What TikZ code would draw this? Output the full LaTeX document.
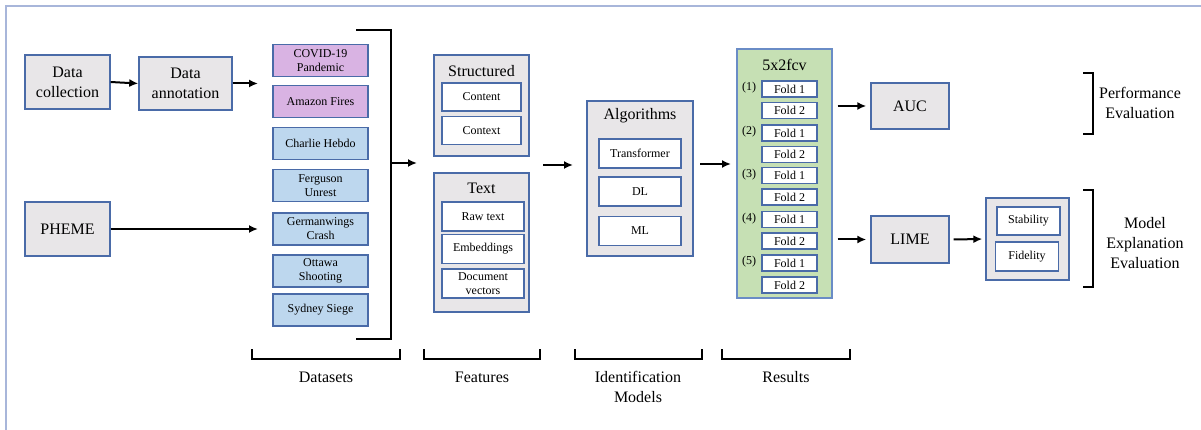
\documentclass[tikz,border=0pt]{standalone}
\usepackage{fontspec}
\setmainfont{Liberation Serif}
\newfontfamily\timesfont{Liberation Serif}
\usetikzlibrary{arrows.meta}

\definecolor{boxline}{HTML}{4A6BA8}
\definecolor{boxgray}{HTML}{E8E6E8}
\definecolor{dspurple}{HTML}{D9B3E3}
\definecolor{dsblue}{HTML}{BDD7EE}
\definecolor{cvgreen}{HTML}{C6E0B4}
\definecolor{cvline}{HTML}{6A8CC6}
\definecolor{framecol}{HTML}{A8B6DA}

\tikzset{
  bigfont/.style={font=\timesfont\fontsize{16}{20}\selectfont},
  smallfont/.style={font=\timesfont\fontsize{12}{14}\selectfont},
  graybox/.style={draw=boxline, line width=1.4pt, fill=boxgray, inner sep=0pt, align=center, bigfont},
  dsbox/.style={draw=boxline, line width=1.4pt, minimum width=95pt, minimum height=32pt, inner sep=0pt, align=center, smallfont},
  whitebox/.style={draw=boxline, line width=1.4pt, fill=white, inner sep=0pt, align=center, smallfont},
  foldbox/.style={whitebox, minimum width=55pt, minimum height=16pt},
  arrow/.style={-{Latex[length=9pt,width=8pt]}, line width=2pt},
  brack/.style={line width=1.8pt},
}

\begin{document}
\begin{tikzpicture}[x=1pt,y=-1pt]
  \useasboundingbox (0,0) rectangle (1201,430);
  \draw[framecol, line width=1.5pt] (6,430) -- (6,6) -- (1201,6);

  % sources
  \node[graybox, minimum width=85pt, minimum height=54pt] (dataCol) at (67.5,82) {Data\\collection};
  \node[graybox, minimum width=93pt, minimum height=53pt] (dataAnn) at (185.5,83.5) {Data\\annotation};
  \node[graybox, minimum width=85pt, minimum height=54pt] (pheme) at (67.5,229) {PHEME};

  % datasets
  \node[dsbox, fill=dspurple] (covid) at (320.5,60.5) {COVID-19\\Pandemic};
  \node[dsbox, fill=dspurple] (amazon) at (320.5,101.5) {Amazon Fires};
  \node[dsbox, fill=dsblue] (charlie) at (320.5,143.5) {Charlie Hebdo};
  \node[dsbox, fill=dsblue] (ferguson) at (320.5,185.5) {Ferguson\\Unrest};
  \node[dsbox, fill=dsblue] (germanwings) at (320.5,229) {Germanwings\\Crash};
  \node[dsbox, fill=dsblue] (ottawa) at (320.5,271) {Ottawa\\Shooting};
  \node[dsbox, fill=dsblue] (sydney) at (320.5,310) {Sydney Siege};

  \coordinate (annEnd) at (258,83.5);
  \coordinate (phemeEnd) at (258,229);
  \draw[arrow] (dataCol.east) -- (dataAnn.west);
  \draw[arrow] (dataAnn.east) -- (annEnd);
  \draw[arrow] (pheme.east) -- (phemeEnd);

  \draw[brack] (356,30) -- (391,30) -- (391,339) -- (356,339);
  \coordinate (dsOut) at (391,163);
  \coordinate (featIn) at (417,163);
  \draw[arrow] (dsOut) -- (featIn);

  % features
  \node[graybox, minimum width=95pt, minimum height=101pt] (structBox) at (481.5,105.5) {};
  \node[bigfont] (structTitle) at (481.5,71) {Structured};
  \node[whitebox, minimum width=79pt, minimum height=28pt] (content) at (481.5,97) {Content};
  \node[whitebox, minimum width=79pt, minimum height=28pt] (context) at (481.5,130.5) {Context};

  \node[graybox, minimum width=95pt, minimum height=139pt] (textBox) at (481.5,242.5) {};
  \node[bigfont] (textTitle) at (481.5,188) {Text};
  \node[whitebox, minimum width=82pt, minimum height=29pt] (rawText) at (483,216.5) {Raw text};
  \node[whitebox, minimum width=82pt, minimum height=29pt] (embed) at (483,249) {Embeddings};
  \node[whitebox, minimum width=82pt, minimum height=29pt] (docVec) at (483,283.5) {Document\\vectors};

  \coordinate (featOut) at (543,165);
  \coordinate (algoIn) at (573,165);
  \draw[arrow] (featOut) -- (algoIn);

  % identification models
  \node[graybox, minimum width=106pt, minimum height=155pt] (algoBox) at (640,178.5) {};
  \node[bigfont] (algoTitle) at (640,116) {Algorithms};
  \node[whitebox, minimum width=82pt, minimum height=29pt] (transformer) at (640,153.5) {Transformer};
  \node[whitebox, minimum width=82pt, minimum height=29pt] (dl) at (640,191.5) {DL};
  \node[whitebox, minimum width=82pt, minimum height=29pt] (ml) at (640,231) {ML};

  \coordinate (algoOut) at (700,164);
  \coordinate (cvIn) at (731,164);
  \draw[arrow] (algoOut) -- (cvIn);

  % results
  \node[draw=cvline, line width=1.4pt, fill=cvgreen, minimum width=95pt, minimum height=249pt] (cvBox) at (784.5,173.5) {};
  \node[bigfont] (cvTitle) at (784.5,65) {5x2fcv};
  \node[foldbox] (foldAa) at (789.5,89) {Fold 1};
  \node[foldbox] (foldAb) at (789.5,110.5) {Fold 2};
  \node[foldbox] (foldBa) at (789.5,133) {Fold 1};
  \node[foldbox] (foldBb) at (789.5,154.5) {Fold 2};
  \node[foldbox] (foldCa) at (789.5,175.5) {Fold 1};
  \node[foldbox] (foldCb) at (789.5,197) {Fold 2};
  \node[foldbox] (foldDa) at (789.5,219.5) {Fold 1};
  \node[foldbox] (foldDb) at (789.5,241) {Fold 2};
  \node[foldbox] (foldEa) at (789.5,263) {Fold 1};
  \node[foldbox] (foldEb) at (789.5,285) {Fold 2};
  \node[smallfont] (runA) at (749,88) {(1)};
  \node[smallfont] (runB) at (749,132) {(2)};
  \node[smallfont] (runC) at (749,174.5) {(3)};
  \node[smallfont] (runD) at (749,218.5) {(4)};
  \node[smallfont] (runE) at (749,262) {(5)};

  % evaluation
  \node[graybox, minimum width=78pt, minimum height=46pt] (auc) at (910,106) {AUC};
  \node[graybox, minimum width=78pt, minimum height=47pt] (lime) at (910,239.5) {LIME};
  \node[graybox, minimum width=83pt, minimum height=82pt] (evalBox) at (1027.5,239) {};
  \node[whitebox, minimum width=63pt, minimum height=28pt] (stability) at (1028.5,221) {Stability};
  \node[whitebox, minimum width=63pt, minimum height=29pt] (fidelity) at (1027,256.5) {Fidelity};

  \draw[arrow, shorten <=5pt, shorten >=4pt] (cvBox.east |- auc) -- (auc.west);
  \draw[arrow, shorten <=5pt, shorten >=4pt] (cvBox.east |- lime) -- (lime.west);
  \draw[arrow, shorten <=4pt, shorten >=3pt] (lime.east) -- (evalBox.west);

  \draw[brack] (1083,73) -- (1093,73) -- (1093,134) -- (1083,134);
  \draw[brack] (1083,190) -- (1093,190) -- (1093,287) -- (1083,287);
  \node[bigfont, align=center] (perfLabel) at (1140,103) {Performance\\Evaluation};
  \node[bigfont, align=center] (explLabel) at (1145,243) {Model\\Explanation\\Evaluation};

  % stage brackets
  \draw[brack] (252,349) -- (252,359) -- (400,359) -- (400,349);
  \draw[brack] (424,349) -- (424,359) -- (540,359) -- (540,349);
  \draw[brack] (575,349) -- (575,359) -- (702,359) -- (702,349);
  \draw[brack] (722,349) -- (722,359) -- (850,359) -- (850,349);
  \node[bigfont] (datasetsLabel) at (326,377) {Datasets};
  \node[bigfont] (featuresLabel) at (482,377) {Features};
  \node[bigfont, align=center] (modelsLabel) at (638,386.5) {Identification\\Models};
  \node[bigfont] (resultsLabel) at (786,377) {Results};
\end{tikzpicture}
\end{document}
